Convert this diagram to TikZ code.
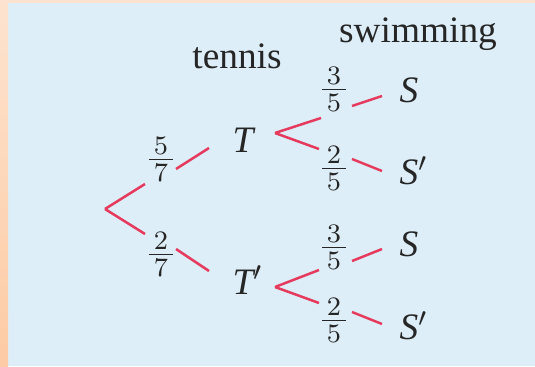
\documentclass[tikz,border=0pt]{standalone}
\usepackage{fontspec}
\setmainfont{Liberation Serif}
\definecolor{panel}{HTML}{DDEEF8}
\definecolor{rim}{HTML}{FDE3CF}
\definecolor{rimdark}{HTML}{FDCBA4}
\definecolor{branch}{HTML}{E53B5E}
\definecolor{ink}{HTML}{262626}
\tikzset{br/.style={draw=branch, line width=0.75pt},
         hd/.style={font=\fontsize{11.2}{13}\selectfont, text=ink, inner sep=0pt},
         ev/.style={font=\fontsize{11.2}{13}\selectfont\itshape, text=ink, inner sep=0pt, anchor=west},
         pb/.style={font=\fontsize{11}{13}\selectfont, text=ink, inner sep=0pt}}
\newcommand{\prob}[2]{$\frac{\,#1\,}{\,#2\,}$}

\begin{document}
\begin{tikzpicture}[x=0.3pt, y=-0.3pt]

  % ---------- panel ----------
  \useasboundingbox (0,0) rectangle (535,366);
  \fill[panel] (0,0) rectangle (535,366);
  \fill[rim] (0,0) rectangle (535,3);
  \shade[top color=rim, bottom color=rimdark] (0,0) rectangle (8,366);

  % ---------- headings ----------
  \node[hd] (hten) at (237,56) {tennis};
  \node[hd] (hswm) at (418,34) {swimming};

  % ---------- outcomes ----------
  \node[ev] (T)  at (232,140) {T};
  \node[ev] (Tc) at (232,280) {T$'$};
  \node[ev] (S1) at (399,90)  {S};
  \node[ev] (S2) at (399,171) {S$'$};
  \node[ev] (S3) at (399,244) {S};
  \node[ev] (S4) at (399,326) {S$'$};

  % ---------- probabilities ----------
  \node[pb] (p57) at (161,159) {\prob{5}{7}};
  \node[pb] (p27) at (161,254) {\prob{2}{7}};
  \node[pb] (p35a) at (334,89)  {\prob{3}{5}};
  \node[pb] (p25a) at (334,168) {\prob{2}{5}};
  \node[pb] (p35b) at (334,247) {\prob{3}{5}};
  \node[pb] (p25b) at (334,320) {\prob{2}{5}};

  % ---------- branch points ----------
  \coordinate (r)  at (105,209);
  \coordinate (vT) at (275,133);
  \coordinate (vC) at (275,287);

  % first stage: root -> T / T'
  \draw[br] (r) -- (145,184);  \draw[br] (176,169) -- (209,148);
  \draw[br] (r) -- (145,234);  \draw[br] (176,249) -- (209,271);

  % second stage after T
  \draw[br] (vT) -- (321,118);  \draw[br] (352,106) -- (382,96);
  \draw[br] (vT) -- (319,149);  \draw[br] (352,159) -- (382,171);

  % second stage after T'
  \draw[br] (vC) -- (319,270);  \draw[br] (352,261) -- (382,249);
  \draw[br] (vC) -- (319,303);  \draw[br] (352,312) -- (382,324);

\end{tikzpicture}
\end{document}
